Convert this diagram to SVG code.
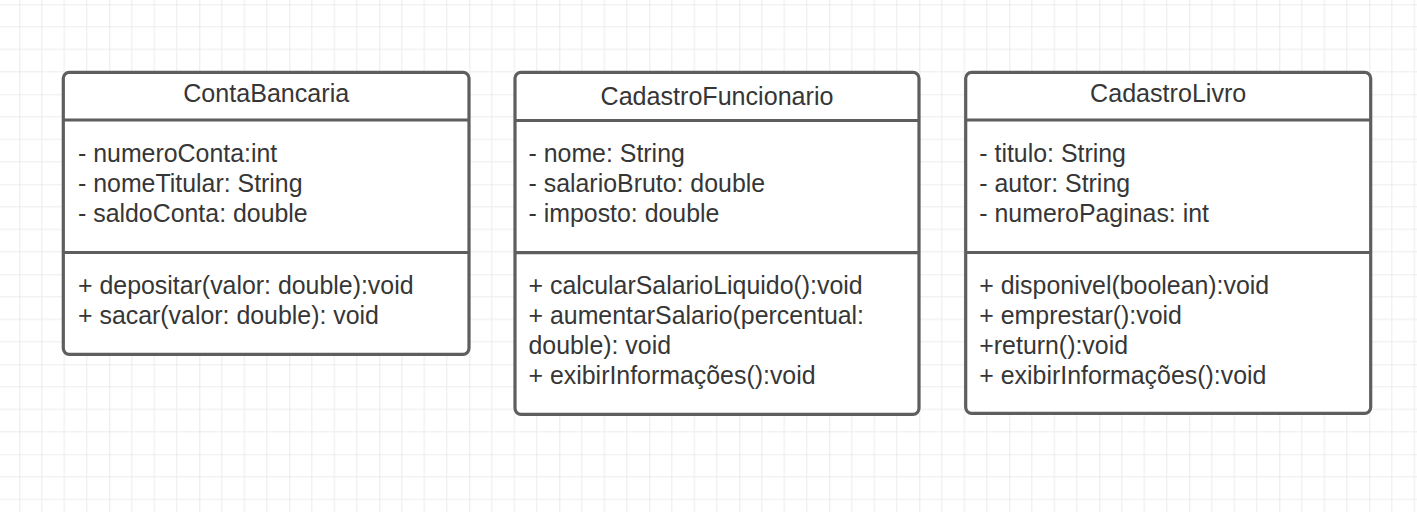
<svg xmlns="http://www.w3.org/2000/svg" width="1417" height="512" viewBox="0 0 1417 512">
  <style>
    .box { fill: #ffffff; stroke: #5e5e5e; stroke-width: 3.2; }
    .div { stroke: #5e5e5e; stroke-width: 3.2; }
    .t { font-family: "Liberation Sans", Arial, sans-serif; font-size: 24.9px; fill: #363636; }
    .title { text-anchor: middle; font-size: 25.1px; }
  </style>
  <defs>
    <pattern id="grid" patternUnits="userSpaceOnUse" x="19.3" y="4.3" width="90" height="90">
      <path d="M22.5 0V90M45 0V90M67.5 0V90M0 22.5H90M0 45H90M0 67.5H90" stroke="#ececec" stroke-width="1" fill="none"/>
      <path d="M0 0V90M0 0H90" stroke="#dcdcdc" stroke-width="1.2" fill="none"/>
    </pattern>
  </defs>
  <rect x="0" y="0" width="1417" height="512" fill="#ffffff"/>
  <rect x="0" y="0" width="1417" height="512" fill="url(#grid)"/>

  <g id="connectors"></g>

  <g id="ContaBancaria">
    <rect class="box" x="63.3" y="72.3" width="405.7" height="282" rx="6" ry="6"/>
    <line class="div" x1="63.3" y1="120" x2="469" y2="120"/>
    <line class="div" x1="63.3" y1="252.5" x2="469" y2="252.5"/>
    <text class="t title" x="266.2" y="102">ContaBancaria</text>
    <text class="t" x="78" y="161.5">- numeroConta:int</text>
    <text class="t" x="78" y="191.5">- nomeTitular: String</text>
    <text class="t" x="78" y="221.5">- saldoConta: double</text>
    <text class="t" x="78" y="293.5">+ depositar(valor: double):void</text>
    <text class="t" x="78" y="323.5">+ sacar(valor: double): void</text>
  </g>

  <g id="CadastroFuncionario">
    <rect class="box" x="515" y="72.3" width="404" height="342" rx="6" ry="6"/>
    <line class="div" x1="515" y1="120.5" x2="919" y2="120.5"/>
    <line class="div" x1="515" y1="252.7" x2="919" y2="252.7"/>
    <text class="t title" x="717" y="104.5">CadastroFuncionario</text>
    <text class="t" x="528.5" y="161.5">- nome: String</text>
    <text class="t" x="528.5" y="191.5">- salarioBruto: double</text>
    <text class="t" x="528.5" y="221.5">- imposto: double</text>
    <text class="t" x="528.5" y="293.5">+ calcularSalarioLiquido():void</text>
    <text class="t" x="528.5" y="323.5">+ aumentarSalario(percentual:</text>
    <text class="t" x="528.5" y="353.5">double): void</text>
    <text class="t" x="528.5" y="383.5">+ exibirInformações():void</text>
  </g>

  <g id="CadastroLivro">
    <rect class="box" x="965.7" y="72.3" width="405" height="341" rx="6" ry="6"/>
    <line class="div" x1="965.7" y1="120" x2="1370.7" y2="120"/>
    <line class="div" x1="965.7" y1="252.5" x2="1370.7" y2="252.5"/>
    <text class="t title" x="1168.2" y="102">CadastroLivro</text>
    <text class="t" x="979.3" y="161.5">- titulo: String</text>
    <text class="t" x="979.3" y="191.5">- autor: String</text>
    <text class="t" x="979.3" y="221.5">- numeroPaginas: int</text>
    <text class="t" x="979.3" y="293.5">+ disponivel(boolean):void</text>
    <text class="t" x="979.3" y="323.5">+ emprestar():void</text>
    <text class="t" x="979.3" y="353.5">+return():void</text>
    <text class="t" x="979.3" y="383.5">+ exibirInformações():void</text>
  </g>
</svg>
